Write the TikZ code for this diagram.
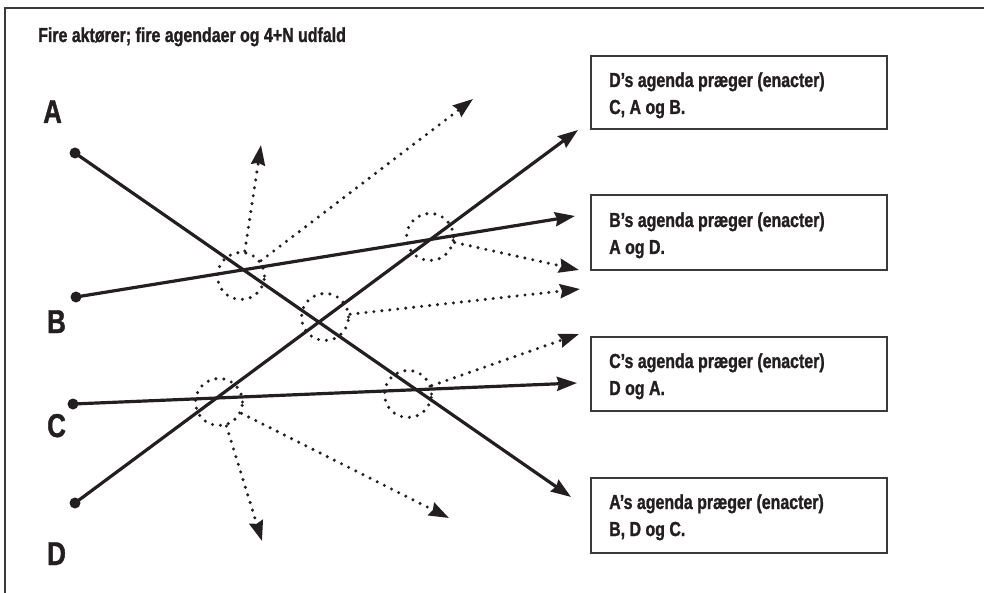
\documentclass[tikz,border=0pt]{standalone}
\usepackage{fontspec}
\newfontfamily\condbf[FakeStretch=0.785, BoldFeatures={FakeBold=1.2}]{Liberation Sans}
\usetikzlibrary{arrows.meta}
\definecolor{ink}{HTML}{231F20}
\definecolor{frame}{HTML}{3A3A3A}
\tikzset{
  mainline/.style={draw=ink, line width=3.2pt, -{Stealth[length=20pt,width=14pt,inset=2pt]}},
  dotline/.style={draw=ink, line width=3.4pt, line cap=round, dash pattern=on 0pt off 8pt, -{Stealth[length=20pt,width=14pt,inset=2pt]}},
  dotring/.style={circle, draw=ink, line width=3.4pt, line cap=round, dash pattern=on 0pt off 8pt, minimum size=47pt, inner sep=0pt},
  startdot/.style={circle, fill=ink, minimum size=11pt, inner sep=0pt},
  infobox/.style={draw=frame, line width=1.8pt},
  boxtext/.style={anchor=base west, inner sep=0pt, text=ink, font=\condbf\bfseries\fontsize{20.3}{24}\selectfont},
  bigletter/.style={anchor=base west, inner sep=0pt, text=ink, font=\condbf\bfseries\fontsize{33}{36}\selectfont},
}
\begin{document}
\begin{tikzpicture}[x=1pt,y=-1pt]
\useasboundingbox (0,0) rectangle (984,593);
% frame
\draw[draw=frame, line width=2pt] (5,593) -- (5,8) -- (984,8);
% title
\node[boxtext] (title) at (38,42) {Fire aktører; fire agendaer og 4+N udfald};
% actor letters
\node[bigletter] (lA) at (43,123) {A};
\node[bigletter] (lB) at (47,333) {B};
\node[bigletter] (lC) at (47,437) {C};
\node[bigletter] (lD) at (47,565) {D};
% boxes
\node[infobox, minimum width=296pt, minimum height=73pt, anchor=north west] (bD) at (590,55) {};
\node[infobox, minimum width=296pt, minimum height=75pt, anchor=north west] (bB) at (590,194) {};
\node[infobox, minimum width=296pt, minimum height=74pt, anchor=north west] (bC) at (590,336) {};
\node[infobox, minimum width=296pt, minimum height=75pt, anchor=north west] (bA) at (590,477) {};
\node[boxtext] (tD1) at (609,87) {D’s agenda præger (enacter)};
\node[boxtext] (tD2) at (609,114) {C, A og B.};
\node[boxtext] (tB1) at (609,227) {B’s agenda præger (enacter)};
\node[boxtext] (tB2) at (609,254) {A og D.};
\node[boxtext] (tC1) at (609,368) {C’s agenda præger (enacter)};
\node[boxtext] (tC2) at (609,395) {D og A.};
\node[boxtext] (tA1) at (609,509) {A’s agenda præger (enacter)};
\node[boxtext] (tA2) at (609,536) {B, D og C.};
% start dots
\node[startdot] (pA) at (75,153) {};
\node[startdot] (pB) at (76,297) {};
\node[startdot] (pC) at (73,404) {};
\node[startdot] (pD) at (75,503) {};
% arrow ends
\coordinate (eA) at (571,497);
\coordinate (eB) at (575,216);
\coordinate (eC) at (577,383);
\coordinate (eD) at (578,130);
% main lines
\draw[mainline] (pA.center) -- (eA);
\draw[mainline] (pB.center) -- (eB);
\draw[mainline] (pC.center) -- (eC);
\draw[mainline] (pD.center) -- (eD);
% dotted rings
\node[dotring] (r1) at (241,276) {};
\node[dotring] (r2) at (430,237) {};
\node[dotring] (r3) at (325,317) {};
\node[dotring] (r4) at (408,394) {};
\node[dotring] (r5) at (219,402) {};
% dotted arrow ends
\coordinate (d1a) at (261,145);
\coordinate (d1b) at (473,99);
\coordinate (d2) at (579,270);
\coordinate (d3) at (580,289);
\coordinate (d4) at (579,334);
\coordinate (d5a) at (262,541);
\coordinate (d5b) at (449,518);
% dotted arrows
\draw[dotline] (r1) -- (d1a);
\draw[dotline] (r1) -- (d1b);
\draw[dotline] (r2) -- (d2);
\draw[dotline] (r3) -- (d3);
\draw[dotline] (r4) -- (d4);
\draw[dotline] (r5) -- (d5a);
\draw[dotline] (r5) -- (d5b);
\end{tikzpicture}
\end{document}
